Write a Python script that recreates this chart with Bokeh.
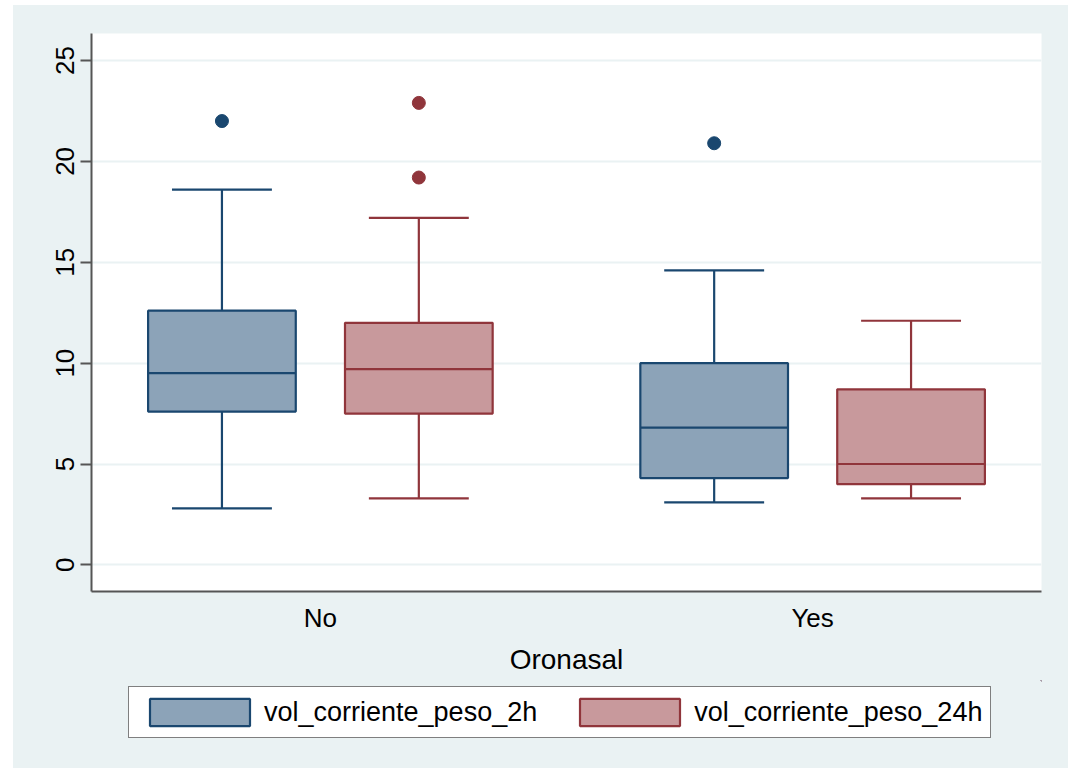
from bokeh.plotting import figure
from bokeh.layouts import column, row
from bokeh.models import ColumnDataSource, FixedTicker, Range1d, Legend, LegendItem, Spacer
from bokeh.embed import file_html
from bokeh.resources import INLINE

# ---- data ----
groups = ["No", "Yes"]
series = ["vol_corriente_peso_2h", "vol_corriente_peso_24h"]

low_2h = [2.8, 3.1]
q1_2h = [7.6, 4.3]
med_2h = [9.5, 6.8]
q3_2h = [12.6, 10.0]
high_2h = [18.6, 14.6]
out_2h = [[22.0], [20.9]]

low_24h = [3.3, 3.3]
q1_24h = [7.5, 4.0]
med_24h = [9.7, 5.0]
q3_24h = [12.0, 8.7]
high_24h = [17.2, 12.1]
out_24h = [[19.2, 22.9], []]

y_ticks = [0, 5, 10, 15, 20, 25]

# ---- style ----
FONT = "Liberation Sans"
BG = "#eaf2f3"
line_colors = ["#1a476f", "#90353b"]
fill_colors = ["#8ca3b8", "#c8999c"]
offsets = [-0.2, 0.2]
BOX_W = 0.30
CAP_W = 0.203
LW = 2.2

p = figure(width=1055, height=675, output_backend="svg", toolbar_location=None,
           x_range=Range1d(0.535, 2.465), y_range=Range1d(-1.32, 26.34),
           min_border_left=78, min_border_right=27, min_border_top=28, min_border_bottom=89,
           background_fill_color="white", border_fill_color=BG, outline_line_color=None)

stats = [
    (low_2h, q1_2h, med_2h, q3_2h, high_2h, out_2h),
    (low_24h, q1_24h, med_24h, q3_24h, high_24h, out_24h),
]

for k, (low, q1, med, q3, high, outs) in enumerate(stats):
    lc, fc, off = line_colors[k], fill_colors[k], offsets[k]
    xs = [i + 1 + off for i in range(len(groups))]
    src = ColumnDataSource(dict(
        x=xs, low=low, q1=q1, med=med, q3=q3, high=high,
        cl=[x - CAP_W / 2 for x in xs], cr=[x + CAP_W / 2 for x in xs],
        bl=[x - BOX_W / 2 for x in xs], br=[x + BOX_W / 2 for x in xs],
    ))
    p.segment(x0="x", y0="low", x1="x", y1="q1", source=src, line_color=lc, line_width=LW)
    p.segment(x0="x", y0="q3", x1="x", y1="high", source=src, line_color=lc, line_width=LW)
    p.segment(x0="cl", y0="low", x1="cr", y1="low", source=src, line_color=lc, line_width=LW)
    p.segment(x0="cl", y0="high", x1="cr", y1="high", source=src, line_color=lc, line_width=LW)
    p.vbar(x="x", width=BOX_W, bottom="q1", top="q3", source=src,
           fill_color=fc, line_color=lc, line_width=LW)
    p.segment(x0="bl", y0="med", x1="br", y1="med", source=src, line_color=lc, line_width=LW)
    ox, oy = [], []
    for i, vals in enumerate(outs):
        for v in vals:
            ox.append(xs[i])
            oy.append(v)
    p.scatter(x=ox, y=oy, size=13, marker="circle", fill_color=lc, line_color=lc)

# axes
p.xaxis.ticker = FixedTicker(ticks=[i + 1 for i in range(len(groups))])
p.xaxis.major_label_overrides = {i + 1: g for i, g in enumerate(groups)}
p.xaxis.axis_label = "Oronasal"
p.yaxis.ticker = FixedTicker(ticks=y_ticks)
p.yaxis.major_label_orientation = "vertical"

for ax in (p.xaxis[0], p.yaxis[0]):
    ax.axis_line_color = "#555555"
    ax.axis_line_width = 2
    ax.major_tick_line_color = "#555555"
    ax.major_tick_line_width = 2
    ax.minor_tick_line_color = None
    ax.major_label_text_font = FONT
    ax.major_label_text_font_size = "26px"
    ax.major_label_text_color = "black"
    ax.axis_label_text_font = FONT
    ax.axis_label_text_font_style = "normal"
    ax.axis_label_text_font_size = "28px"
    ax.axis_label_text_color = "black"

p.xaxis.major_tick_line_color = None
p.xaxis.major_tick_out = 0
p.xaxis.major_label_standoff = 11
p.xaxis.axis_label_standoff = 8
p.yaxis.major_tick_out = 11
p.yaxis.major_tick_in = 0
p.yaxis.major_label_standoff = 6

p.xgrid.grid_line_color = None
p.ygrid.grid_line_color = BG
p.ygrid.grid_line_width = 2

# ---- legend strip (separate figure placed under the chart; frame aligns with chart frame) ----
lg = figure(width=1055, height=88, output_backend="svg", toolbar_location=None,
            x_range=Range1d(0, 1), y_range=Range1d(0, 1),
            x_axis_type=None, y_axis_type=None,
            min_border_left=78, min_border_right=27,
            min_border_top=0, min_border_bottom=0,
            background_fill_color=BG, border_fill_color=BG, outline_line_color=None)
lg.xgrid.grid_line_color = None
lg.ygrid.grid_line_color = None
items = []
for k in range(len(series)):
    r = lg.vbar(x=[5], width=0.1, bottom=[5], top=[6],
                fill_color=fill_colors[k], line_color=line_colors[k], line_width=LW)
    items.append(LegendItem(label=series[k], renderers=[r]))

legend = Legend(items=items, orientation="horizontal", location=(37, 30),
                border_line_color="black", border_line_width=1,
                background_fill_color="white", background_fill_alpha=1,
                label_text_font=FONT, label_text_font_size="27px",
                label_text_color="black",
                glyph_width=125, glyph_height=34, label_standoff=2,
                spacing=30, padding=8, margin=0)
lg.add_layout(legend, "center")

chart = column(p, lg, spacing=0, styles={"background-color": BG})
page = row(Spacer(width=13, height=768),
           column(Spacer(width=1055, height=5), chart, spacing=0),
           spacing=0)

open("out.html", "w").write(file_html(page, INLINE))
